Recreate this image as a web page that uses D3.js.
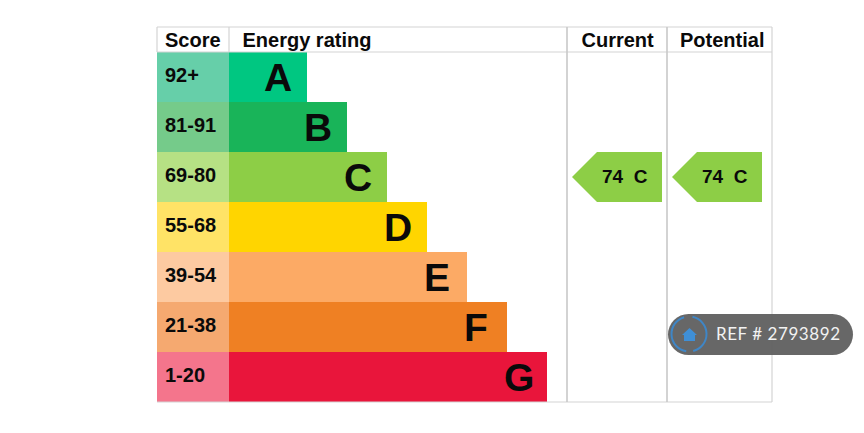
<!DOCTYPE html>
<html>
<head>
<meta charset="utf-8">
<script src="https://cdn.jsdelivr.net/npm/d3@7"></script>
<style>
html, body { margin: 0; padding: 0; background: #fff; }
svg { display: block; }
text { font-family: "Liberation Sans", Arial, sans-serif; font-weight: bold; fill: #0a0a0a; }
</style>
</head>
<body>
<div id="chart"></div>
<script>
// chart values
const scores = ["92+", "81-91", "69-80", "55-68", "39-54", "21-38", "1-20"];
const bands = ["A", "B", "C", "D", "E", "F", "G"];
const barLengths = [78, 118, 158, 198, 238, 278, 318];
const barColors = ["#00c781", "#19b459", "#8dce46", "#ffd500", "#fcaa65", "#ef8023", "#e9153b"];
const scoreColors = ["#66cfa9", "#75cb8a", "#b6e184", "#ffe366", "#fdcaa1", "#f5a970", "#f4758c"];
const headers = ["Score", "Energy rating", "Current", "Potential"];
const currentRating = { score: 74, band: "C" };
const potentialRating = { score: 74, band: "C" };
const refLabel = "REF # 2793892";

const width = 864, height = 433;

const svg = d3.select("#chart").append("svg")
    .attr("width", width)
    .attr("height", height);

let y = d3.scaleBand().domain(bands).range([52, 402]);
let x = d3.scaleLinear().domain([0, d3.max(barLengths)]).range([229, 547]);

// score column + bars
svg.selectAll(".score")
    .data(bands)
    .enter()
    .append("rect")
    .attr("x", 157)
    .attr("y", d => y(d))
    .attr("width", 72)
    .attr("height", y.bandwidth())
    .attr("fill", (d, i) => scoreColors[i]);

svg.selectAll(".bar")
    .data(bands)
    .enter()
    .append("rect")
    .attr("x", x(0))
    .attr("y", d => y(d))
    .attr("width", (d, i) => x(barLengths[i]) - x(0))
    .attr("height", y.bandwidth())
    .attr("fill", (d, i) => barColors[i]);

svg.selectAll(".scoreLabel")
    .data(scores)
    .enter()
    .append("text")
    .attr("x", 165)
    .attr("y", (d, i) => y(bands[i]) + 30)
    .attr("font-size", 20)
    .text(d => d);

//letters sit at a fixed offset from the bar end, left aligned
svg.selectAll(".bandLabel")
    .data(bands)
    .enter()
    .append("text")
    .attr("x", (d, i) => x(barLengths[i]) - 43)
    .attr("y", d => y(d) + 39)
    .attr("font-size", 39)
    .text(d => d);

// grid lines, the two inner column rules are heavier
let lines = [
    [157, 27, 772, 27, 1.2, "#d4d4d4"], [157, 52, 772, 52, 1.2, "#d4d4d4"], [157, 402, 772, 402, 1.2, "#d4d4d4"],
    [157, 27, 157, 52, 1.2, "#d4d4d4"], [229, 27, 229, 52, 1.2, "#d4d4d4"], [772, 27, 772, 402, 1.2, "#d4d4d4"],
    [567, 27, 567, 402, 1.6, "#c8c8c8"], [667, 27, 667, 402, 1.6, "#c8c8c8"]
];
svg.selectAll(".grid")
    .data(lines)
    .enter()
    .append("line")
    .attr("x1", d => d[0])
    .attr("y1", d => d[1])
    .attr("x2", d => d[2])
    .attr("y2", d => d[3])
    .attr("stroke-width", d => d[4])
    .attr("stroke", d => d[5]);

// headers
let headerX = [165, 242.5, 581.5, 680];
svg.selectAll(".header")
    .data(headers)
    .enter()
    .append("text")
    .attr("x", (d, i) => headerX[i])
    .attr("y", 47)
    .attr("font-size", 20)
    .text(d => d);

// arrows
function drawArrow(left, right, rating)
{
    let top = y(rating.band);
    let h = y.bandwidth();
    let color = barColors[bands.indexOf(rating.band)];
    svg.append("path")
        .attr("d", d3.line()([[left, top + h / 2], [left + 25, top], [right, top], [right, top + h], [left + 25, top + h]]) + "Z")
        .attr("fill", color);
    svg.append("text")
        .attr("x", left + 30)
        .attr("y", top + 31)
        .attr("font-size", 19)
        .style("white-space", "pre")
        .text(rating.score + "  " + rating.band);
}
drawArrow(572, 662, currentRating);
drawArrow(672, 762, potentialRating);

// ref badge
svg.append("rect")
    .attr("x", 668)
    .attr("y", 314)
    .attr("width", 185)
    .attr("height", 41)
    .attr("rx", 20.5)
    .attr("fill", "#5e5e5e")
    .attr("fill-opacity", 0.94);

let ringArc = d3.arc().innerRadius(16.5).outerRadius(18.5);
let ringParts = [[0.2, 2.9], [3.3, 6.0]];
svg.selectAll(".ring")
    .data(ringParts)
    .enter()
    .append("path")
    .attr("transform", "translate(689,334)")
    .attr("d", d => ringArc({ startAngle: d[0], endAngle: d[1] }))
    .attr("fill", "#3f86c6");

svg.append("path")
    .attr("d", d3.line()([[682, 335], [689.5, 328], [697, 335], [695, 335], [695, 341], [684, 341], [684, 335]]) + "Z")
    .attr("fill", "#3f8fd6");

svg.append("text")
    .attr("x", 716)
    .attr("y", 340)
    .attr("font-size", 17)
    .attr("textLength", 124)
    .style("font-family", "Lato, sans-serif")
    .style("font-weight", "400")
    .style("fill", "#f2f2f2")
    .text(refLabel);
</script>
</body>
</html>
